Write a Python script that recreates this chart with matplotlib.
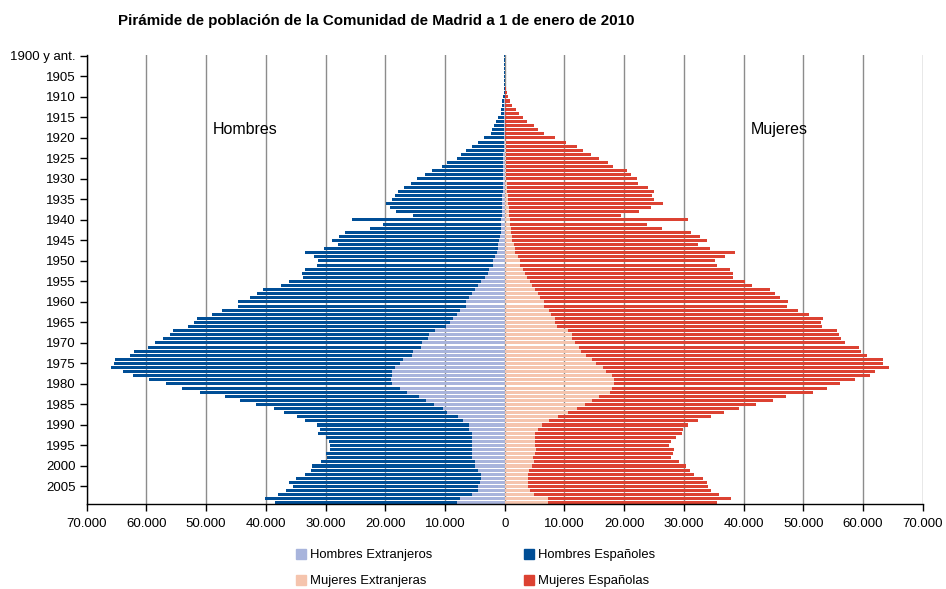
import numpy as np
import matplotlib.pyplot as plt
from matplotlib.patches import Patch

plt.rcParams['font.family'] = ['Liberation Sans', 'DejaVu Sans']

# Year of birth (1900 includes earlier years)
years = list(range(1900, 2010))

# Population in thousands
hombres_extranjeros = [
    0.01, 0.01, 0.01, 0.01, 0.01, 0.01, 0.01, 0.01, 0.02, 0.02,   # 1900-1909
    0.03, 0.04, 0.05, 0.05, 0.06, 0.07, 0.08, 0.09, 0.10, 0.11,   # 1910-1919
    0.13, 0.15, 0.17, 0.19, 0.21, 0.23, 0.25, 0.27, 0.29, 0.30,   # 1920-1929
    0.31, 0.32, 0.34, 0.35, 0.37, 0.39, 0.41, 0.43, 0.45, 0.50,   # 1930-1939
    0.55, 0.65, 0.70, 0.70, 0.80, 1.00, 1.15, 1.20, 1.30, 1.70,   # 1940-1949
    2.00, 2.00, 2.70, 2.85, 3.35, 4.00, 4.40, 4.90, 5.40, 5.90,   # 1950-1959
    6.40, 6.50, 7.50, 8.00, 8.70, 9.20, 9.90, 11.7, 12.7, 12.9,   # 1960-1969
    13.9, 14.1, 15.3, 15.6, 17.1, 17.6, 18.4, 18.8, 18.8, 19.1,   # 1970-1979
    18.8, 17.6, 16.4, 14.4, 13.2, 11.9, 10.4, 9.60, 7.90, 6.90,   # 1980-1989
    5.90, 5.90, 5.40, 5.40, 5.40, 5.40, 5.40, 5.40, 5.40, 5.00,   # 1990-1999
    5.00, 4.50, 4.00, 4.00, 4.20, 4.40, 4.50, 5.50, 7.50, 8.00,   # 2000-2009
]
hombres_espanoles = [
    0.14, 0.07, 0.07, 0.07, 0.09, 0.09, 0.09, 0.11, 0.13, 0.18,
    0.27, 0.36, 0.45, 0.50, 0.64, 1.13, 1.42, 1.71, 2.00, 2.19,
    3.27, 4.25, 5.23, 6.21, 7.19, 7.77, 9.45, 10.3, 11.9, 13.1,
    14.4, 15.3, 16.6, 17.6, 18.0, 18.4, 19.5, 18.7, 17.7, 14.9,
    25.0, 19.8, 21.9, 26.1, 26.9, 28.0, 26.7, 29.0, 32.1, 30.3,
    29.2, 29.5, 30.7, 31.1, 30.4, 32.2, 33.1, 35.5, 36.0, 36.8,
    38.2, 38.2, 39.8, 41.1, 42.8, 42.9, 43.1, 43.8, 43.4, 44.4,
    44.6, 45.7, 46.7, 47.1, 48.1, 47.9, 47.5, 45.2, 43.5, 40.4,
    38.0, 36.5, 34.7, 32.4, 31.2, 29.7, 28.3, 27.3, 26.8, 26.5,
    25.6, 25.1, 25.8, 24.6, 24.1, 23.8, 23.8, 24.6, 24.3, 25.8,
    27.2, 28.0, 29.4, 31.0, 32.0, 31.1, 32.2, 32.4, 32.7, 30.4,
]
mujeres_extranjeras = [
    0.01, 0.01, 0.01, 0.01, 0.01, 0.01, 0.01, 0.01, 0.02, 0.02,
    0.03, 0.04, 0.05, 0.06, 0.07, 0.08, 0.09, 0.10, 0.11, 0.12,
    0.13, 0.14, 0.15, 0.16, 0.17, 0.18, 0.20, 0.22, 0.25, 0.28,
    0.30, 0.33, 0.40, 0.45, 0.50, 0.50, 0.50, 0.70, 0.70, 0.70,
    0.85, 0.85, 1.00, 1.00, 1.20, 1.20, 1.50, 1.70, 1.80, 2.20,
    2.50, 2.50, 3.00, 3.40, 3.70, 4.20, 4.50, 5.00, 5.50, 5.90,
    6.50, 6.50, 7.40, 7.70, 8.40, 8.40, 8.70, 10.6, 11.2, 11.2,
    11.7, 12.4, 12.7, 13.6, 14.6, 15.3, 16.4, 16.9, 17.9, 18.3,
    18.3, 17.9, 17.6, 15.8, 14.6, 13.4, 12.1, 10.6, 8.90, 7.40,
    6.20, 5.50, 5.00, 5.00, 5.00, 5.00, 5.20, 5.00, 4.70, 4.90,
    4.50, 4.00, 3.85, 3.85, 3.85, 3.85, 4.20, 4.90, 7.20, 7.20,
]
mujeres_espanolas = [
    0.04, 0.02, 0.02, 0.03, 0.04, 0.05, 0.07, 0.09, 0.15, 0.32,
    0.47, 0.80, 1.12, 1.78, 2.28, 2.92, 3.61, 4.76, 5.42, 6.38,
    8.27, 10.1, 12.0, 12.9, 14.2, 15.6, 17.1, 17.9, 20.2, 20.8,
    21.8, 22.0, 23.6, 24.6, 24.1, 24.5, 26.0, 23.8, 21.8, 18.7,
    29.9, 23.0, 25.3, 30.2, 31.5, 32.7, 30.8, 32.7, 36.7, 34.7,
    32.7, 33.0, 34.7, 34.8, 34.5, 36.0, 36.9, 39.4, 39.8, 40.2,
    40.9, 40.8, 41.7, 43.2, 44.9, 44.6, 44.4, 45.0, 44.8, 45.1,
    45.3, 46.9, 47.0, 47.1, 48.8, 48.1, 48.0, 45.1, 43.3, 40.4,
    37.8, 36.1, 34.0, 31.3, 30.3, 28.7, 27.1, 26.1, 25.6, 24.9,
    24.5, 24.3, 24.7, 23.7, 22.8, 22.5, 23.1, 23.2, 23.1, 24.3,
    25.8, 27.0, 27.9, 29.4, 30.1, 30.2, 30.3, 31.0, 30.7, 28.3,
]

tick_years = list(range(1900, 2010, 5))
tick_labels = ['1900 y ant.'] + [str(y) for y in tick_years[1:]]
x_ticks = list(range(-70000, 70001, 10000))

c_hext = '#A8B4DC'
c_hesp = '#004E96'
c_mext = '#F5C4AD'
c_mesp = '#DC4232'

he = np.array(hombres_extranjeros) * 1000
hs = np.array(hombres_espanoles) * 1000
me = np.array(mujeres_extranjeras) * 1000
ms = np.array(mujeres_espanolas) * 1000

fig = plt.figure(figsize=(9.46, 5.89), dpi=100)
ax = fig.add_axes([86.7 / 946, 1 - 504.1 / 589, 836 / 946, 449.4 / 589])

bh = 0.75
ax.barh(years, -he, height=bh, color=c_hext)
ax.barh(years, -hs, left=-he, height=bh, color=c_hesp)
ax.barh(years, me, height=bh, color=c_mext)
ax.barh(years, ms, left=me, height=bh, color=c_mesp)

ax.set_xlim(-70000, 70000)
ax.set_ylim(2009.3, 1899.7)
ax.set_xticks(x_ticks)
ax.set_xticklabels([f"{abs(v):,}".replace(",", ".") for v in x_ticks])
ax.set_yticks(tick_years)
ax.set_yticklabels(tick_labels)
ax.tick_params(axis='both', direction='out', length=5, width=1, labelsize=9.5, colors='black')
ax.tick_params(axis='x', pad=5)
ax.tick_params(axis='y', pad=3)

for s in ['top', 'right']:
    ax.spines[s].set_visible(False)
for s in ['left', 'bottom']:
    ax.spines[s].set_color('black')
    ax.spines[s].set_linewidth(1)

ax.set_axisbelow(True)
ax.xaxis.grid(True, color='#8c8c8c', linewidth=1)

ax.text(-48900, 1918, 'Hombres', fontsize=11.5, ha='left', va='center')
ax.text(41200, 1918, 'Mujeres', fontsize=11.5, ha='left', va='center')

fig.text(118 / 946, 1 - 20.5 / 589,
         'Pirámide de población de la Comunidad de Madrid a 1 de enero de 2010',
         fontsize=10.9, fontweight='bold', ha='left', va='center')

handles = [Patch(color=c_hext), Patch(color=c_mext), Patch(color=c_hesp), Patch(color=c_mesp)]
labels = ['Hombres Extranjeros', 'Mujeres Extranjeras', 'Hombres Españoles', 'Mujeres Españolas']
fig.legend(handles, labels, ncol=2, loc='upper left',
           bbox_to_anchor=(296 / 946, 1 - 549 / 589),
           frameon=False, fontsize=9.4, handlelength=0.75, handleheight=0.75,
           handletextpad=0.3, columnspacing=7.05, labelspacing=1.05,
           borderpad=0, borderaxespad=0)

fig.savefig('out.png', dpi=100)
